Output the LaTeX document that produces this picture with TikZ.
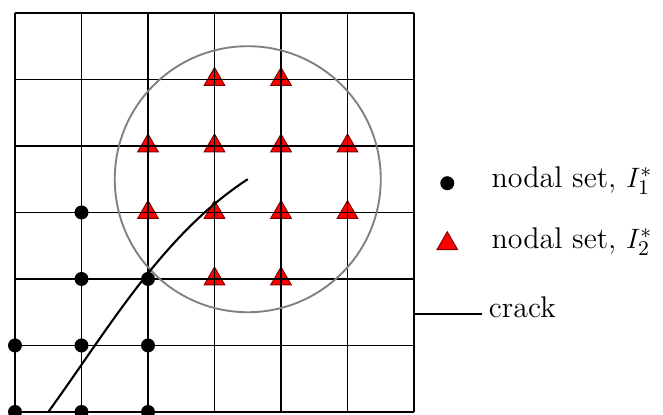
\documentclass[tikz,border=0pt]{standalone}
\usepackage{tikz}
\usetikzlibrary{shapes.geometric}

\begin{document}
\begin{tikzpicture}[
      dot/.style={circle, fill=black, inner sep=0pt, minimum size=2.1mm},
      tri/.style={regular polygon, regular polygon sides=3, draw=red!50!black, fill=red, inner sep=0pt, minimum size=3.6mm, line width=0.4pt},
      gridline/.style={line width=0.5pt},
      crackline/.style={line width=0.9pt},
      legtext/.style={anchor=base west, inner sep=0pt, font=\fontsize{12.8}{15}\selectfont}
    ]
    \useasboundingbox (-0.2256,-0.045) rectangle (9.744,6.195);

    % nodal set I_2^*
    \foreach \x/\y [count=\i] in {3/5,4/5,2/4,3/4,4/4,5/4,2/3,3/3,4/3,5/3,3/2,4/2}
      \node[tri] (tri\i) at (\x,\y) {};

    \draw[gridline] (0,0) grid (6,6);

    % nodal set I_1^*
    \foreach \x/\y [count=\i] in {1/3,1/2,2/2,0/1,1/1,2/1,0/0,1/0,2/0}
      \node[dot] (dot\i) at (\x,\y) {};

    \node[circle, draw=gray, line width=0.8pt, inner sep=0pt, minimum size=4cm] (supp) at (3.5,3.5) {};

    \coordinate (crack_a) at (0.5,0);
    \coordinate (crack_b) at (3.5,3.5);
    \draw[crackline] (crack_a) .. controls (1.4,1.24) and (2.22,2.67) .. (crack_b);

    % legend
    \node[dot] (leg_dot) at (6.5,3.44) {};
    \node[legtext] (leg_dot_txt) at (7.16,3.38) {nodal set, $I_1^*$};
    \node[tri] (leg_tri) at (6.5,2.53) {};
    \node[legtext] (leg_tri_txt) at (7.16,2.46) {nodal set, $I_2^*$};
    \coordinate (leg_a) at (6,1.48);
    \coordinate (leg_b) at (7.02,1.48);
    \draw[crackline] (leg_a) -- (leg_b);
    \node[legtext] (leg_crack_txt) at (7.12,1.42) {crack};
  \end{tikzpicture}
\end{document}
